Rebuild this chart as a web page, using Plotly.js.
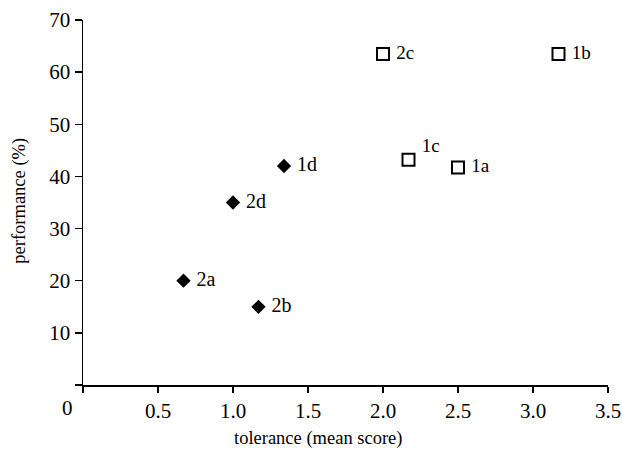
<!DOCTYPE html>
<html>
<head>
<meta charset="utf-8">
<script src="https://cdn.plot.ly/plotly-3.0.1.min.js"></script>
<style>html,body{margin:0;padding:0;background:#fff;}#chart{width:622px;height:454px;}</style>
</head>
<body>
<div id="chart"></div>
<script>
// Group d (filled diamonds)
var dLabels = ["2a", "2b", "2d", "1d"];
var dTolerance = [0.67, 1.17, 1.0, 1.34];
var dPerformance = [20, 15, 35, 42];

// Group c (open squares)
var cLabels = ["2c", "1b", "1c", "1a"];
var cTolerance = [2.0, 3.17, 2.17, 2.5];
var cPerformance = [63.5, 63.5, 43.2, 41.7];

var xTicks = [0, 0.5, 1.0, 1.5, 2.0, 2.5, 3.0, 3.5];
var xTickText = ["", "0.5", "1.0", "1.5", "2.0", "2.5", "3.0", "3.5"];
var yTicks = [0, 10, 20, 30, 40, 50, 60, 70];
var yTickText = ["", "10", "20", "30", "40", "50", "60", "70"];

var serif = "Liberation Serif";
var tickFont = {family: serif, size: 21, color: "#000"};
var labelFont = {family: serif, size: 20, color: "#000"};
var titleFont = {family: serif, size: 18.5, color: "#000"};

// 1c label sits raised above its marker in the reference
var cText = cLabels.map(function (t) { return t === "1c" ? "&nbsp;" + t + "<br>&nbsp;" : "&nbsp;" + t; });
var dText = dLabels.map(function (t) { return "&nbsp;" + t; });

var traces = [
  {
    x: dTolerance, y: dPerformance, text: dText,
    mode: "markers+text", type: "scatter",
    textposition: "middle right",
    textfont: labelFont,
    marker: {symbol: "diamond", size: 11, color: "#000"},
    cliponaxis: false,
    hoverinfo: "none"
  },
  {
    x: cTolerance, y: cPerformance, text: cText,
    mode: "markers+text", type: "scatter",
    textposition: "middle right",
    textfont: {family: serif, size: 19, color: "#000"},
    marker: {symbol: "square-open", size: 12, color: "#000", line: {width: 2, color: "#000"}},
    cliponaxis: false,
    hoverinfo: "none"
  }
];

var layout = {
  width: 622, height: 454,
  margin: {l: 83, r: 14, t: 20, b: 69},
  paper_bgcolor: "#fff", plot_bgcolor: "#fff",
  showlegend: false,
  font: {family: serif, size: 20, color: "#000"},
  xaxis: {
    range: [0, 3.5], tickvals: xTicks, ticktext: xTickText,
    showgrid: false, zeroline: false, showline: true,
    linecolor: "#000", linewidth: 1.5,
    ticks: "outside", ticklen: 6, tickwidth: 1.5, tickcolor: "#000",
    tickfont: tickFont, fixedrange: true
  },
  yaxis: {
    range: [0, 70], tickvals: yTicks, ticktext: yTickText,
    showgrid: false, zeroline: false, showline: true,
    linecolor: "#000", linewidth: 1.5,
    ticks: "outside", ticklen: 7, tickwidth: 1.5, tickcolor: "#000",
    tickfont: tickFont, fixedrange: true
  },
  annotations: [
    {text: "0", xref: "x", yref: "y", x: 0, y: 0, xshift: -16, yshift: -23,
     showarrow: false, font: tickFont},
    {text: "tolerance (mean score)", xref: "paper", yref: "paper",
     x: 0.448, y: 0, yshift: -53, xanchor: "center", yanchor: "middle", showarrow: false,
     font: titleFont},
    {text: "performance (%)", xref: "paper", yref: "paper",
     x: 0, y: 0.505, xshift: -63, xanchor: "center", yanchor: "middle", textangle: -90, showarrow: false,
     font: titleFont}
  ]
};

Plotly.newPlot("chart", traces, layout, {displayModeBar: false, staticPlot: true});
</script>
</body>
</html>
